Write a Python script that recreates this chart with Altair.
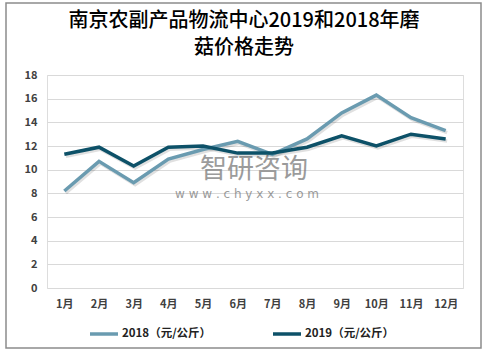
import altair as alt
import pandas as pd

months = ["1月", "2月", "3月", "4月", "5月", "6月", "7月", "8月", "9月", "10月", "11月", "12月"]
price_2018 = [8.2, 10.7, 8.9, 10.9, 11.7, 12.4, 11.3, 12.6, 14.8, 16.3, 14.4, 13.3]
price_2019 = [11.3, 11.9, 10.3, 11.9, 12.0, 11.4, 11.4, 11.9, 12.85, 12.0, 13.0, 12.6]
series_names = ["2018（元/公斤）", "2019（元/公斤）"]
colors = ["#6a9bb0", "#0d5168"]
y_ticks = [0, 2, 4, 6, 8, 10, 12, 14, 16, 18]
title_lines = ["南京农副产品物流中心2019和2018年磨", "菇价格走势"]

rows = []
for m, a, b in zip(months, price_2018, price_2019):
    rows.append({"month": m, "series": series_names[0], "value": a})
    rows.append({"month": m, "series": series_names[1], "value": b})
df = pd.DataFrame(rows)

FONT = "Noto Sans CJK SC"
W, H = 416, 213

x_enc = alt.X("month:N", sort=months, title=None,
              scale=alt.Scale(paddingInner=0, paddingOuter=0.5),
              axis=alt.Axis(labelAngle=0, domain=False, ticks=False, grid=False,
                            labelFont=FONT, labelFontWeight="bold", labelFontSize=11,
                            labelColor="#404040", labelPadding=10))
y_enc = alt.Y("value:Q", title=None,
              scale=alt.Scale(domain=[0, 18], nice=False),
              axis=alt.Axis(values=y_ticks, domain=False, ticks=False, grid=True,
                            gridColor="#d9d9d9", gridWidth=1,
                            labelFont=FONT, labelFontWeight="bold", labelFontSize=11,
                            labelColor="#404040", labelPadding=10))

base = alt.Chart(df)

shadow = base.mark_line(strokeWidth=3.5, color="#000000", opacity=0.12,
                        xOffset=1.5, yOffset=2).encode(
    x=x_enc, y=y_enc, detail="series:N")

lines = base.mark_line(strokeWidth=3.5).encode(
    x=x_enc, y=y_enc,
    color=alt.Color("series:N", sort=series_names,
                    scale=alt.Scale(domain=series_names, range=colors),
                    legend=alt.Legend(title=None, orient="none", direction="horizontal",
                                      legendX=41, legendY=243,
                                      symbolType="stroke", symbolSize=784,
                                      symbolStrokeWidth=3.5, columnPadding=54,
                                      labelOffset=2, labelFont=FONT,
                                      labelFontWeight="bold", labelFontSize=11.5,
                                      labelColor="#222222")))

wm1 = alt.Chart(pd.DataFrame({"t": ["智研咨询"]})).mark_text(
    font=FONT, fontSize=27, color="#7a7a7a", opacity=0.75, align="left", baseline="middle"
).encode(text="t:N", x=alt.value(153), y=alt.value(95))
wm2 = alt.Chart(pd.DataFrame({"t": ["w w w . c h y x x . c o m"]})).mark_text(
    font="DejaVu Sans", fontSize=12, color="#7a7a7a", opacity=0.75, align="left", baseline="middle"
).encode(text="t:N", x=alt.value(128), y=alt.value(119))

t1 = alt.Chart(pd.DataFrame({"t": [title_lines[0]]})).mark_text(
    font=FONT, fontSize=20, fontWeight=500, color="#000000", align="center", baseline="middle"
).encode(text="t:N", x=alt.value(197), y=alt.value(-54))
t2 = alt.Chart(pd.DataFrame({"t": [title_lines[1]]})).mark_text(
    font=FONT, fontSize=20, fontWeight=500, color="#000000", align="center", baseline="middle"
).encode(text="t:N", x=alt.value(197), y=alt.value(-27))

frame = alt.Chart(pd.DataFrame({"a": [0]})).mark_rect(
    fill=None, stroke="#8c8c8c", strokeWidth=1.5
).encode(x=alt.value(-41), x2=alt.value(434), y=alt.value(-72), y2=alt.value(273))

chart = alt.layer(frame, t1, t2, wm1, wm2, shadow, lines).properties(
    width=W, height=H,
    autosize=alt.AutoSizeParams(type="none"),
    padding={"left": 47, "top": 75, "right": 24, "bottom": 65},
).configure_view(stroke=None).configure(background="white")

chart.save("out.html", embed_options={"renderer": "svg", "actions": False})
